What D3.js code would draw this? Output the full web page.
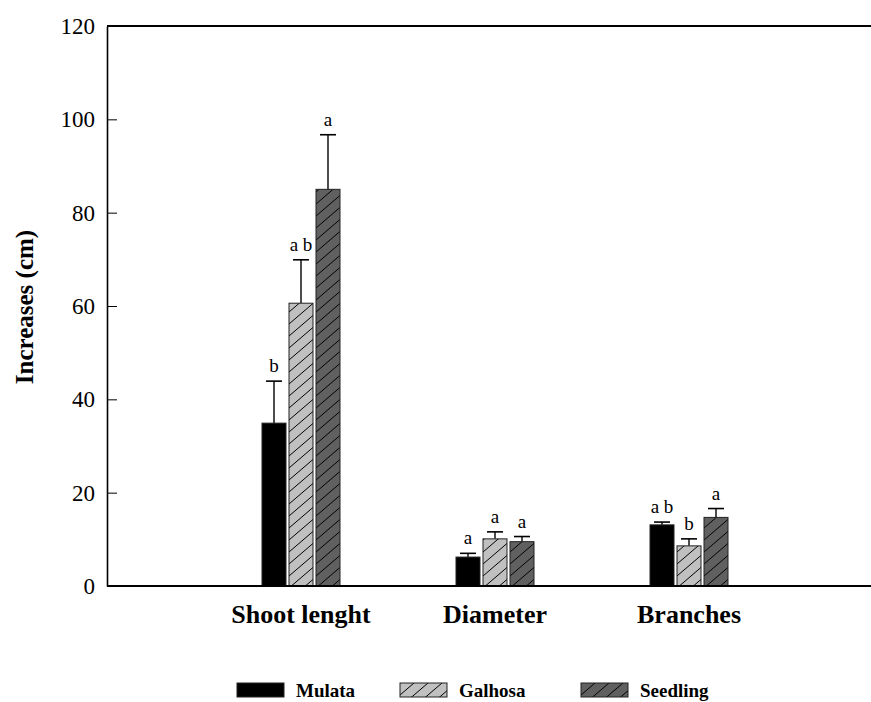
<!DOCTYPE html>
<html>
<head>
<meta charset="utf-8">
<script src="https://cdn.jsdelivr.net/npm/d3@7"></script>
<style>
  body { margin: 0; background: #fff; }
  svg { display: block; }
  text { font-family: "Liberation Serif", "Times New Roman", Tinos, "DejaVu Serif", serif; }
</style>
</head>
<body>
<svg width="871" height="702"></svg>
<script>
var categories = ["Shoot lenght", "Diameter", "Branches"];
var series = ["Mulata", "Galhosa", "Seedling"];

var mulata = [34.9, 6.2, 13.1];
var mulataErr = [9.0, 0.8, 0.6];
var galhosa = [60.6, 10.1, 8.6];
var galhosaErr = [9.3, 1.5, 1.5];
var seedling = [85.0, 9.5, 14.7];
var seedlingErr = [11.7, 1.1, 1.9];

var mulataLetters = ["b", "a", "a b"];
var galhosaLetters = ["a b", "a", "b"];
var seedlingLetters = ["a", "a", "a"];

var yTicks = [0, 20, 40, 60, 80, 100, 120];

var svg = d3.select("svg");
var serif = "\"Liberation Serif\", \"Times New Roman\", Tinos, \"DejaVu Serif\", serif";

var plotLeft = 107, plotTop = 26, plotBottom = 586;

// categories sit at 1, 2, 3 on a 0..4 axis
var x = d3.scaleLinear().domain([0, 4]).range([plotLeft, 883]);
var y = d3.scaleLinear().domain([0, 120]).range([plotBottom, plotTop]);
var inner = d3.scaleBand().domain(series).range([-39, 39]).paddingInner(0.111);

var fills = { Mulata: "#000", Galhosa: "url(#hatchLight)", Seedling: "url(#hatchDark)" };

var defs = svg.append("defs");
function hatch(id, bg) {
    var p = defs.append("pattern")
        .attr("id", id)
        .attr("patternUnits", "userSpaceOnUse")
        .attr("width", 14).attr("height", 12);
    p.append("rect").attr("width", 14).attr("height", 12).attr("fill", bg);
    p.append("path")
        .attr("d", "M0,12 L14,0 M-7,6 L7,-6 M7,18 L21,6")
        .attr("stroke", "#000").attr("stroke-width", 1);
}
hatch("hatchLight", "#c0c0c0");
hatch("hatchDark", "#606060");

var rows = [];
var vals = [mulata, galhosa, seedling];
var errs = [mulataErr, galhosaErr, seedlingErr];
var lets = [mulataLetters, galhosaLetters, seedlingLetters];
categories.forEach(function(c, i) {
    series.forEach(function(s, j) {
        rows.push({ cat: c, i: i, series: s, value: vals[j][i], err: errs[j][i], letter: lets[j][i] });
    });
});

// frame line on top
svg.append("line")
    .attr("x1", plotLeft).attr("x2", 871).attr("y1", plotTop).attr("y2", plotTop)
    .attr("stroke", "#000").attr("stroke-width", 2);

var node = svg.selectAll(".bar")
    .data(rows)
    .enter().append("g")
    .attr("class", "bar")
    .attr("transform", function(d) { return "translate(" + (x(d.i + 1) + inner(d.series)) + ",0)"; });

node.append("line")
    .attr("x1", inner.bandwidth() / 2).attr("x2", inner.bandwidth() / 2)
    .attr("y1", function(d) { return y(d.value); })
    .attr("y2", function(d) { return y(d.value + d.err); })
    .attr("stroke", "#000").attr("stroke-width", 1.4);

node.append("line")
    .attr("x1", inner.bandwidth() / 2 - 8).attr("x2", inner.bandwidth() / 2 + 8)
    .attr("y1", function(d) { return y(d.value + d.err); })
    .attr("y2", function(d) { return y(d.value + d.err); })
    .attr("stroke", "#000").attr("stroke-width", 1.6);

node.append("rect")
    .attr("y", function(d) { return y(d.value); })
    .attr("width", inner.bandwidth())
    .attr("height", function(d) { return y(0) - y(d.value); })
    .attr("fill", function(d) { return fills[d.series]; })
    .attr("stroke", "#222").attr("stroke-width", 1);

node.append("text")
    .attr("x", inner.bandwidth() / 2)
    .attr("y", function(d) { return y(d.value + d.err) - 9; })
    .attr("text-anchor", "middle")
    .style("font-family", serif).style("font-size", "19px")
    .text(function(d) { return d.letter; });

// y axis, ticks pointing inward
var yAxis = svg.append("g")
    .attr("transform", "translate(" + plotLeft + ",0)")
    .call(d3.axisLeft(y).tickValues(yTicks).tickSize(-10).tickSizeOuter(0).tickPadding(12));
yAxis.attr("font-family", null);
yAxis.select(".domain").attr("stroke-width", 1.6);
yAxis.selectAll(".tick line").attr("stroke-width", 1);
yAxis.selectAll("text")
    .style("font-family", serif).style("font-size", "23px").attr("fill", "#000");

svg.append("line")
    .attr("x1", plotLeft).attr("x2", 871).attr("y1", plotBottom).attr("y2", plotBottom)
    .attr("stroke", "#000").attr("stroke-width", 2);

svg.selectAll(".cat")
    .data(categories)
    .enter().append("text")
    .attr("class", "cat")
    .attr("x", function(d, i) { return x(i + 1); })
    .attr("y", 623)
    .attr("text-anchor", "middle")
    .style("font-family", serif).style("font-size", "26px").style("font-weight", "bold")
    .text(function(d) { return d; });

svg.append("text")
    .attr("transform", "translate(33,307) rotate(-90)")
    .attr("text-anchor", "middle")
    .style("font-family", serif).style("font-size", "25px").style("font-weight", "bold")
    .text("Increases (cm)");

// legend
var legendX = [237, 400, 581];
var legend = svg.selectAll(".legend")
    .data(series)
    .enter().append("g")
    .attr("class", "legend")
    .attr("transform", function(d, i) { return "translate(" + legendX[i] + ",683)"; });

legend.append("rect")
    .attr("width", 47).attr("height", 14)
    .attr("fill", function(d) { return fills[d]; })
    .attr("stroke", "#222").attr("stroke-width", 1);

legend.append("text")
    .attr("x", 59).attr("y", 14)
    .style("font-family", serif).style("font-size", "19px").style("font-weight", "bold")
    .text(function(d) { return d; });
</script>
</body>
</html>
